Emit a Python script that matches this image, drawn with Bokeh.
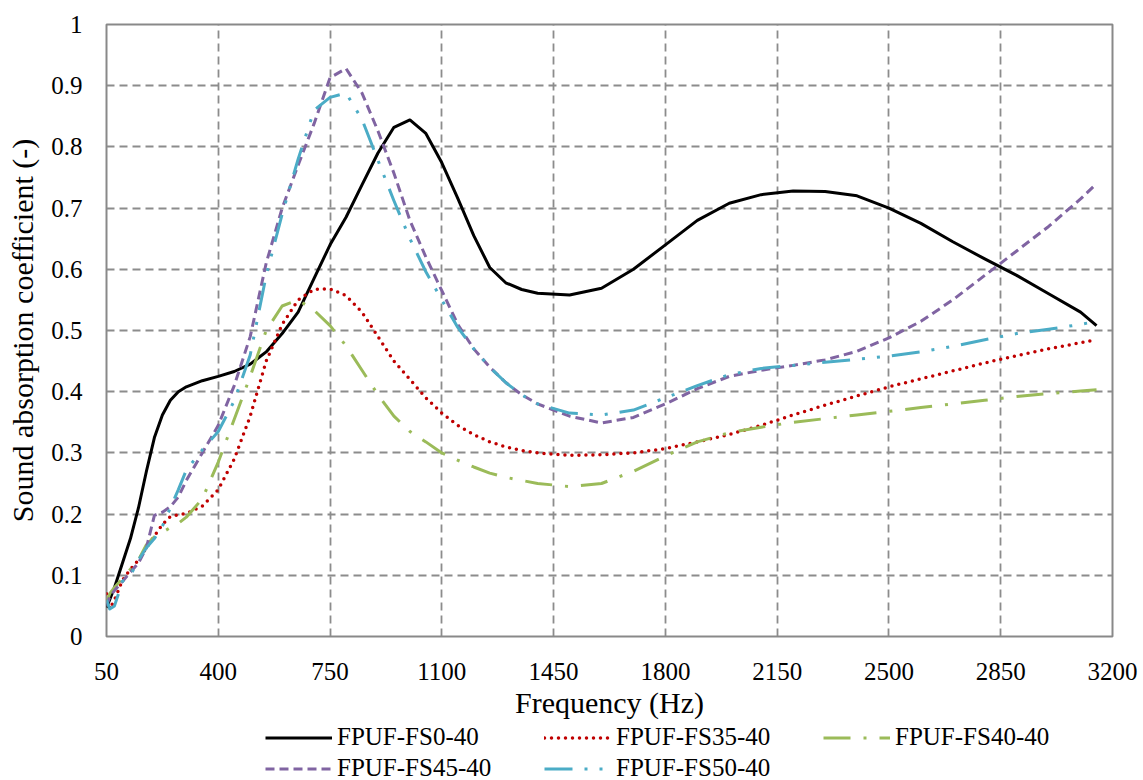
from bokeh.plotting import figure
from bokeh.layouts import column
from bokeh.models import Legend, LegendItem, FixedTicker, Range1d
from bokeh.embed import file_html
from bokeh.resources import INLINE

# Frequency (Hz) at which the absorption curves are sampled
freq = [50, 60, 75, 100, 125, 150, 175, 200, 225, 250, 275, 300, 350, 400,
        450, 500, 550, 600, 650, 700, 750, 800, 850, 900, 950, 1000, 1050,
        1100, 1150, 1200, 1250, 1300, 1350, 1400, 1500, 1600, 1700, 1800,
        1900, 2000, 2100, 2200, 2300, 2400, 2500, 2600, 2700, 2800, 2900,
        3000, 3100, 3150]

fs0_40 = [0.047, 0.06, 0.08, 0.12, 0.16, 0.21, 0.27, 0.325, 0.362, 0.386,
          0.40, 0.408, 0.418, 0.425, 0.433, 0.445, 0.465, 0.495, 0.53, 0.585,
          0.64, 0.685, 0.738, 0.79, 0.832, 0.844, 0.822, 0.774, 0.716, 0.655,
          0.603, 0.578, 0.567, 0.561, 0.558, 0.569, 0.60, 0.64, 0.68, 0.708,
          0.722, 0.728, 0.727, 0.72, 0.70, 0.675, 0.645, 0.617, 0.59, 0.56,
          0.53, 0.508]

fs35_40 = [0.07, 0.045, 0.06, 0.092, 0.11, 0.125, 0.145, 0.164, 0.183, 0.196,
           0.199, 0.201, 0.213, 0.24, 0.29, 0.36, 0.45, 0.51, 0.55, 0.567,
           0.568, 0.557, 0.53, 0.49, 0.45, 0.42, 0.39, 0.365, 0.345, 0.33,
           0.318, 0.31, 0.304, 0.30, 0.296, 0.297, 0.30, 0.307, 0.318, 0.33,
           0.345, 0.362, 0.378, 0.393, 0.408, 0.421, 0.434, 0.447, 0.459,
           0.47, 0.48, 0.485]

fs40_40 = [0.055, 0.07, 0.08, 0.095, 0.11, 0.125, 0.15, 0.163, 0.17, 0.178,
           0.185, 0.195, 0.225, 0.285, 0.355, 0.425, 0.50, 0.54, 0.55, 0.533,
           0.508, 0.475, 0.435, 0.395, 0.36, 0.335, 0.318, 0.30, 0.288, 0.277,
           0.267, 0.26, 0.255, 0.25, 0.245, 0.25, 0.27, 0.295, 0.318, 0.333,
           0.342, 0.35, 0.356, 0.362, 0.368, 0.374, 0.38, 0.386, 0.392, 0.397,
           0.401, 0.403]

fs45_40 = [0.05, 0.065, 0.075, 0.09, 0.105, 0.12, 0.145, 0.198, 0.203, 0.212,
           0.228, 0.255, 0.30, 0.345, 0.41, 0.49, 0.61, 0.70, 0.77, 0.838,
           0.913, 0.928, 0.888, 0.826, 0.757, 0.68, 0.62, 0.565, 0.51, 0.47,
           0.44, 0.415, 0.395, 0.38, 0.36, 0.349, 0.358, 0.38, 0.405, 0.425,
           0.435, 0.443, 0.452, 0.466, 0.488, 0.515, 0.55, 0.59, 0.63, 0.67,
           0.715, 0.74]

fs50_40 = [0.06, 0.045, 0.05, 0.09, 0.10, 0.125, 0.145, 0.16, 0.18, 0.21,
           0.24, 0.272, 0.305, 0.335, 0.385, 0.46, 0.59, 0.69, 0.78, 0.86,
           0.881, 0.888, 0.845, 0.778, 0.712, 0.65, 0.596, 0.55, 0.505, 0.47,
           0.44, 0.415, 0.395, 0.38, 0.365, 0.362, 0.37, 0.39, 0.41, 0.428,
           0.438, 0.443, 0.448, 0.453, 0.458, 0.465, 0.474, 0.485, 0.495,
           0.502, 0.51, 0.515]

series_names = ["FPUF-FS0-40", "FPUF-FS35-40", "FPUF-FS40-40",
                "FPUF-FS45-40", "FPUF-FS50-40"]

x_ticks = [50, 400, 750, 1100, 1450, 1800, 2150, 2500, 2850, 3200]
y_ticks = [0, 0.1, 0.2, 0.3, 0.4, 0.5, 0.6, 0.7, 0.8, 0.9, 1]

FONT = "Liberation Serif"
GRID = "#8c8c8c"

# line style for each series
styles = [
    dict(line_color="black", line_width=3, line_join="round"),
    dict(line_color="#C00000", line_width=3.5, line_dash="0 7",
         line_cap="round", line_join="round"),
    dict(line_color="#9BBB59", line_width=3, line_dash="27 13 3 13",
         line_join="round"),
    dict(line_color="#8064A2", line_width=3, line_dash="9 5",
         line_join="round"),
    dict(line_color="#4BACC6", line_width=3, line_dash="28 12 3 12 3 12",
         line_join="round"),
]

p = figure(width=1143, height=721, output_backend="svg", toolbar_location=None,
           x_range=Range1d(50, 3200), y_range=Range1d(0, 1),
           min_border_left=106, min_border_right=31, min_border_top=24,
           min_border_bottom=85, background_fill_color="white",
           border_fill_color="white")

p.outline_line_color = "#898989"
p.outline_line_width = 2

p.xaxis.ticker = FixedTicker(ticks=x_ticks)
p.yaxis.ticker = FixedTicker(ticks=y_ticks)
p.yaxis.major_label_overrides = {0: "0", 1: "1"}

for ax in (p.xaxis, p.yaxis):
    ax.axis_line_color = None
    ax.major_tick_line_color = None
    ax.minor_tick_line_color = None
    ax.major_tick_in = 0
    ax.major_tick_out = 0
    ax.major_label_text_font = FONT
    ax.major_label_text_font_size = "25px"
    ax.major_label_text_color = "black"
    ax.axis_label_text_font = FONT
    ax.axis_label_text_font_size = "30px"
    ax.axis_label_text_font_style = "normal"
    ax.axis_label_text_color = "black"

p.xaxis.axis_label = "Frequency (Hz)"
p.yaxis.axis_label = "Sound absorption coefficient (-)"
p.xaxis.major_label_standoff = 26
p.xaxis.axis_label_standoff = 3
p.yaxis.major_label_standoff = 24
p.yaxis.axis_label_standoff = 9

for g in (p.xgrid, p.ygrid):
    g.grid_line_color = GRID
    g.grid_line_width = 1.8
    g.grid_line_dash = "8 5"

for ys, st in zip([fs0_40, fs35_40, fs40_40, fs45_40, fs50_40], styles):
    p.line(freq, ys, **st)

# legend strip below the chart; its sample lines reuse the series styles
lg = figure(width=1143, height=59, output_backend="svg", toolbar_location=None,
            x_range=Range1d(0, 1), y_range=Range1d(0, 1), min_border=0,
            min_border_left=106, min_border_right=31,
            background_fill_color="white", border_fill_color="white")
lg.outline_line_color = None
lg.xaxis.visible = False
lg.yaxis.visible = False
lg.xgrid.visible = False
lg.ygrid.visible = False

items = []
for name, st in zip(series_names, styles):
    # off-range stand-in renderer, only used for the legend sample
    r = lg.line([-2, -1], [-2, -1], **st)
    items.append(LegendItem(label=name, renderers=[r]))

legend = Legend(items=items, orientation="horizontal", ncols=3,
                location=(159, -2), glyph_width=67, glyph_height=25,
                label_height=25, label_width=204, label_standoff=5,
                spacing=3, padding=0, margin=0, border_line_color=None,
                background_fill_alpha=0, label_text_font=FONT,
                label_text_font_size="25px", label_text_color="black")
lg.add_layout(legend, "center")

layout = column(p, lg, spacing=0)
open("out.html", "w").write(file_html(layout, INLINE))
